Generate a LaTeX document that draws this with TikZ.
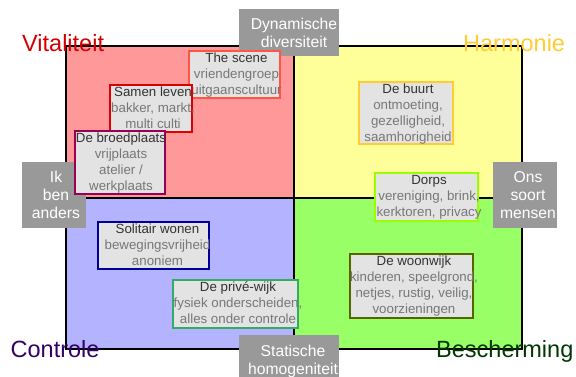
\documentclass[tikz,border=0pt]{standalone}
\usepackage{fontspec}
\setmainfont{Liberation Sans}
\usetikzlibrary{calc}
\definecolor{qred}{HTML}{FF9999}
\definecolor{qyel}{HTML}{FFFF99}
\definecolor{qblu}{HTML}{B3B3FF}
\definecolor{qgrn}{HTML}{99FF66}
\definecolor{glabfill}{HTML}{999999}
\definecolor{boxfill}{HTML}{E3E3E3}
\definecolor{tdark}{HTML}{333333}
\definecolor{tsub}{HTML}{777777}
\definecolor{cvit}{HTML}{D40000}
\definecolor{char}{HTML}{FFCC33}
\definecolor{ccon}{HTML}{330066}
\definecolor{cbes}{HTML}{003800}
\definecolor{bscene}{HTML}{FF5544}
\definecolor{bsamen}{HTML}{DD0000}
\definecolor{bbroed}{HTML}{990055}
\definecolor{bbuurt}{HTML}{FFCC33}
\definecolor{bdorps}{HTML}{99FF00}
\definecolor{bsolit}{HTML}{000099}
\definecolor{bprive}{HTML}{33AA66}
\definecolor{bwoon}{HTML}{556600}
\begin{document}
\begin{tikzpicture}[x=1pt,y=-1pt,
  glab/.style={fill=glabfill, draw=none, inner sep=0pt},
  gtxt/.style={text=white, align=center, inner sep=0pt, anchor=north, font=\fontsize{15.7}{18}\selectfont},
  ibox/.style={fill=boxfill, draw=#1, line width=2pt, inner sep=0pt},
  itxt/.style={text=tdark, align=center, inner sep=0pt, anchor=north, font=\fontsize{13.3}{16}\selectfont},
  corner/.style={inner sep=0pt, anchor=base west, font=\fontsize{23.5}{28}\selectfont}
]
\useasboundingbox (0,0) rectangle (576,376);
% quadrants
\fill[qred] (66,46) rectangle (294,198);
\fill[qyel] (294,46) rectangle (522,198);
\fill[qblu] (66,198) rectangle (294,349);
\fill[qgrn] (294,198) rectangle (522,349);
\draw[line width=1.5pt] (66,46) rectangle (522,349);
\draw[line width=2pt] (294,46) -- (294,349);
\draw[line width=2pt] (66,198) -- (522,198);

% gray axis labels
\node[glab, minimum width=100pt, minimum height=47pt] (dyn) at (289,32.5) {};
\node[gtxt] (dyntxt) at (294,18) {\rule{0pt}{11.5pt}Dynamische\\diversiteit};
\node[glab, minimum width=64pt, minimum height=66pt] (ik) at (54,195) {};
\node[gtxt] (iktxt) at (56,170.5) {\rule{0pt}{11.5pt}Ik\\ben\\anders};
\node[glab, minimum width=64pt, minimum height=66pt] (ons) at (525,195) {};
\node[gtxt] (onstxt) at (528,170.5) {\rule{0pt}{11.5pt}Ons\\soort\\mensen};
\node[glab, minimum width=100pt, minimum height=46pt] (stat) at (289,358) {};
\node[gtxt] (stattxt) at (293,344.5) {\rule{0pt}{11.5pt}Statische\\homogeniteit};

% corner labels
\node[corner, text=cvit] (vit) at (22,51) {Vitaliteit};
\node[corner, text=char] (harm) at (463,51) {Harmonie};
\node[corner, text=ccon] (con) at (10.5,357) {Controle};
\node[corner, text=cbes] (bes) at (436,357) {Bescherming};

% inner boxes
\node[ibox=bscene, minimum width=91pt, minimum height=47pt] (scene) at (234.5,74.5) {};
\node[itxt] (scenetxt) at ($(scene.north)+(2,2)$) {\rule{0pt}{10pt}The scene\\\textcolor{tsub}{vriendengroep}\\\textcolor{tsub}{uitgaanscultuur}};

\node[ibox=bsamen, minimum width=82pt, minimum height=47pt] (samen) at (151,108.5) {};
\node[itxt] (samentxt) at ($(samen.north)+(2,2)$) {\rule{0pt}{10pt}Samen leven\\\textcolor{tsub}{bakker, markt,}\\\textcolor{tsub}{multi culti}};

\node[ibox=bbroed, minimum width=90pt, minimum height=63pt] (broed) at (120,162.5) {};
\node[itxt] (broedtxt) at ($(broed.north)+(1,2)$) {\rule{0pt}{10pt}De broedplaats\\\textcolor{tsub}{vrijplaats}\\\textcolor{tsub}{atelier /}\\\textcolor{tsub}{werkplaats}};

\node[ibox=bbuurt, minimum width=94pt, minimum height=62pt] (buurt) at (406,113) {};
\node[itxt] (buurttxt) at ($(buurt.north)+(2,2)$) {\rule{0pt}{10pt}De buurt\\\textcolor{tsub}{ontmoeting,}\\\textcolor{tsub}{gezelligheid,}\\\textcolor{tsub}{saamhorigheid}};

\node[ibox=bdorps, minimum width=103pt, minimum height=48pt] (dorps) at (426.5,197) {};
\node[itxt] (dorpstxt) at ($(dorps.north)+(2.5,2)$) {\rule{0pt}{10pt}Dorps\\\textcolor{tsub}{vereniging, brink,}\\\textcolor{tsub}{kerktoren, privacy}};

\node[ibox=bsolit, minimum width=111pt, minimum height=47pt] (solit) at (153.5,245.5) {};
\node[itxt] (solittxt) at ($(solit.north)+(4,2)$) {\rule{0pt}{10pt}Solitair wonen\\\textcolor{tsub}{bewegingsvrijheid}\\\textcolor{tsub}{anoniem}};

\node[ibox=bprive, minimum width=125pt, minimum height=48pt] (prive) at (235.5,304) {};
\node[itxt] (privetxt) at ($(prive.north)+(2.5,2)$) {\rule{0pt}{10pt}De privé-wijk\\\textcolor{tsub}{fysiek onderscheiden,}\\\textcolor{tsub}{alles onder controle}};

\node[ibox=bwoon, minimum width=123pt, minimum height=64pt] (woon) at (411.5,286) {};
\node[itxt] (woontxt) at ($(woon.north)+(2.5,2)$) {\rule{0pt}{10pt}De woonwijk\\\textcolor{tsub}{kinderen, speelgrond,}\\\textcolor{tsub}{netjes, rustig, veilig,}\\\textcolor{tsub}{voorzieningen}};
\end{tikzpicture}
\end{document}
